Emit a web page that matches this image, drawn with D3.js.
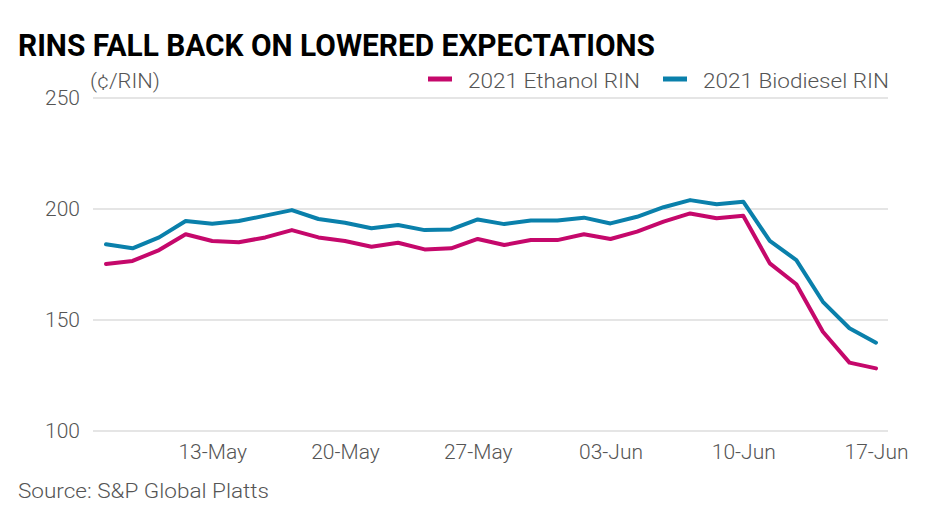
<!DOCTYPE html>
<html>
<head>
<meta charset="utf-8">
<script src="https://cdn.jsdelivr.net/npm/d3@7"></script>
<style>
  body { margin: 0; background: #fff; }
  text { font-family: Roboto, "Noto Sans", sans-serif; }
  .axis path, .axis line { display: none; }
  .axis text { fill: #555; font-size: 21px; font-weight: 300; }
</style>
</head>
<body>
<div class="chart"></div>
<script>
// business days shown on the x axis
var dates = ["07-May", "10-May", "11-May", "12-May", "13-May", "14-May",
  "17-May", "18-May", "19-May", "20-May", "21-May",
  "24-May", "25-May", "26-May", "27-May", "28-May",
  "31-May", "01-Jun", "02-Jun", "03-Jun", "04-Jun",
  "07-Jun", "08-Jun", "09-Jun", "10-Jun", "11-Jun",
  "14-Jun", "15-Jun", "16-Jun", "17-Jun"];

var ethanol = [175.2, 176.6, 181.5, 188.6, 185.6, 185, 187.2, 190.5, 187.2, 185.6,
  183, 184.8, 181.8, 182.3, 186.5, 183.8, 186, 186, 188.6, 186.5,
  189.8, 194.3, 198, 195.8, 197, 175.5, 166.1, 144.7, 130.8, 128.2];

var biodiesel = [184.1, 182.3, 187.2, 194.6, 193.4, 194.6, 197, 199.5, 195.5, 193.8,
  191.3, 192.8, 190.5, 190.8, 195.3, 193.2, 194.8, 194.8, 196.1, 193.5,
  196.5, 200.8, 204, 202.1, 203.3, 185.6, 177, 158.2, 146.3, 139.8];

var xTicks = ["13-May", "20-May", "27-May", "03-Jun", "10-Jun", "17-Jun"];
var yTicks = [100, 150, 200, 250];

var seriesNames = ["2021 Ethanol RIN", "2021 Biodiesel RIN"];
var colors = ["#c5086b", "#0a80ab"];

var svgWidth = 936;
var svgHeight = 514;

var svg = d3.select(".chart")
  .append("svg")
  .attr("width", svgWidth)
  .attr("height", svgHeight);

// scales
var xScale = d3.scalePoint()
  .domain(dates)
  .range([106, 876]);

var yScale = d3.scaleLinear()
  .domain([100, 250])
  .range([431, 98]);

// title
svg.append("text")
  .attr("x", 18)
  .attr("y", 56)
  .attr("textLength", 637)
  .attr("lengthAdjust", "spacingAndGlyphs")
  .style("font-size", "32px")
  .style("font-weight", "bold")
  .style("fill", "#000")
  .text("RINS FALL BACK ON LOWERED EXPECTATIONS");

// unit label
svg.append("text")
  .attr("x", 90)
  .attr("y", 88)
  .attr("textLength", 70)
  .attr("lengthAdjust", "spacingAndGlyphs")
  .style("font-size", "21px")
  .style("font-weight", 300)
  .style("fill", "#555")
  .text("(¢/RIN)");

// gridlines
svg.append("g")
  .selectAll("line")
  .data(yTicks)
  .enter()
  .append("line")
  .attr("x1", 93)
  .attr("x2", 888)
  .attr("y1", d => yScale(d))
  .attr("y2", d => yScale(d))
  .attr("stroke", "#dcdcdc")
  .attr("stroke-width", 1.5);

// y axis
svg.append("g")
  .classed("axis", true)
  .attr("transform", "translate(80, 0)")
  .call(d3.axisLeft(yScale).tickValues(yTicks).tickSize(0).tickPadding(0));

// x axis
svg.append("g")
  .classed("axis", true)
  .attr("transform", "translate(0, 444)")
  .call(d3.axisBottom(xScale).tickValues(xTicks).tickSize(0).tickPadding(0));

// lines
var drawLine = d3.line()
  .x((d, i) => xScale(dates[i]))
  .y(d => yScale(d));

[ethanol, biodiesel].forEach(function(values, i) {
  svg.append("path")
    .attr("d", drawLine(values))
    .attr("fill", "none")
    .attr("stroke", colors[i])
    .attr("stroke-width", 4)
    .attr("stroke-linejoin", "round")
    .attr("stroke-linecap", "round");
});

// legend
var legendX = [428, 663];
var legendW = [172, 186];
seriesNames.forEach(function(name, i) {
  svg.append("line")
    .attr("x1", legendX[i])
    .attr("x2", legendX[i] + 24)
    .attr("y1", 79)
    .attr("y2", 79)
    .attr("stroke", colors[i])
    .attr("stroke-width", 5);
  svg.append("text")
    .attr("x", legendX[i] + 40)
    .attr("y", 88)
    .attr("textLength", legendW[i])
    .attr("lengthAdjust", "spacingAndGlyphs")
    .style("font-size", "21px")
    .style("font-weight", 300)
    .style("fill", "#555")
    .text(name);
});

// source
svg.append("text")
  .attr("x", 18)
  .attr("y", 498)
  .attr("textLength", 251)
  .attr("lengthAdjust", "spacingAndGlyphs")
  .style("font-size", "21px")
  .style("font-weight", 300)
  .style("fill", "#555")
  .text("Source: S&P Global Platts");
</script>
</body>
</html>
